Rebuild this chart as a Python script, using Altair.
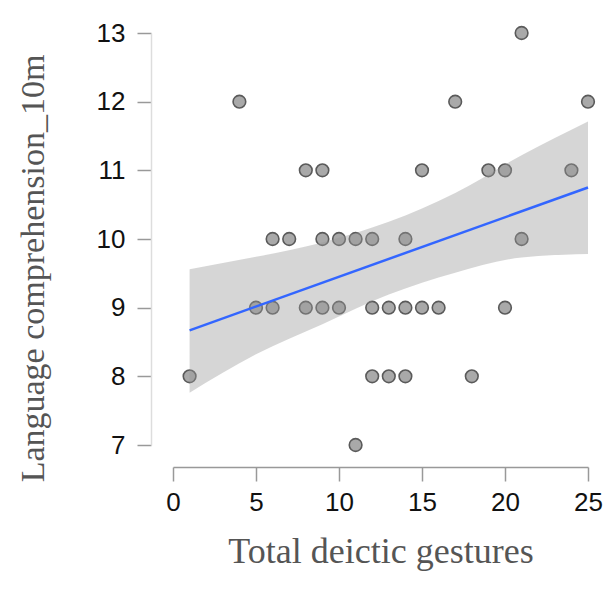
import altair as alt
import pandas as pd

gestures = [1, 4, 5, 6, 6, 7, 8, 8, 9, 9, 9, 10, 10, 11, 11, 12, 12, 12, 13, 13,
            14, 14, 14, 15, 15, 16, 17, 18, 19, 20, 20, 21, 21, 24, 25]
comprehension = [8, 12, 9, 10, 9, 10, 11, 9, 11, 10, 9, 10, 9, 10, 7, 10, 9, 8, 9, 8,
                 10, 9, 8, 11, 9, 9, 12, 8, 11, 11, 9, 13, 10, 11, 12]

# fitted line and 95% confidence band
band_x = [1, 5, 9, 13, 17, 21, 25]
band_lo = [7.76, 8.32, 8.76, 9.19, 9.51, 9.73, 9.78]
band_hi = [9.56, 9.74, 9.95, 10.25, 10.67, 11.22, 11.71]
fit_x = [1, 25]
fit_y = [8.67, 10.75]

df = pd.DataFrame({"x": gestures, "y": comprehension})
band = pd.DataFrame({"x": band_x, "lo": band_lo, "hi": band_hi})
fit = pd.DataFrame({"x": fit_x, "fit": fit_y})

xs = alt.Scale(domain=[0, 25], nice=False, zero=False)
ys = alt.Scale(domain=[7, 13], nice=False, zero=False)

xaxis = alt.Axis(values=[0, 5, 10, 15, 20, 25], format="d", offset=22, grid=False,
                 labelFlush=False,
                 domainColor="#999", tickColor="#999", tickSize=14, tickWidth=1.5,
                 domainWidth=1.5, labelFont="Liberation Sans", labelFontSize=26,
                 labelColor="#111", labelPadding=8,
                 title="Total deictic gestures", titleFont="Liberation Serif",
                 titleFontSize=36, titleFontWeight="normal", titleColor="#555",
                 titlePadding=19)
yaxis = alt.Axis(values=[7, 8, 9, 10, 11, 12, 13], format="d", offset=22, grid=False,
                 labelFlush=False,
                 domainColor="#ddd", tickColor="#999", tickSize=14, tickWidth=1.5,
                 domainWidth=1.5, labelFont="Liberation Sans", labelFontSize=26,
                 labelColor="#111", labelPadding=12,
                 title="Language comprehension_10m", titleFont="Liberation Serif",
                 titleFontSize=34, titleFontWeight="normal", titleColor="#555",
                 titlePadding=46, titleY=235)

points = alt.Chart(df).mark_circle(size=160, color="#a9a9a9", opacity=1,
                                   stroke="#5a5a5a", strokeWidth=1.6).encode(
    x=alt.X("x:Q", scale=xs, axis=xaxis),
    y=alt.Y("y:Q", scale=ys, axis=yaxis),
)

area = alt.Chart(band).mark_area(color="#999999", opacity=0.4,
                                 interpolate="monotone").encode(
    x=alt.X("x:Q", scale=xs),
    y=alt.Y("lo:Q", scale=ys),
    y2="hi:Q",
)

line = alt.Chart(fit).mark_line(color="#3366ff", strokeWidth=2.5).encode(
    x=alt.X("x:Q", scale=xs),
    y=alt.Y("fit:Q", scale=ys),
)

chart = (points + area + line).properties(
    width=415, height=412,
    background="white",
    autosize=alt.AutoSizeParams(type="none"),
    padding={"left": 165, "top": 25, "right": 15, "bottom": 135},
).configure_view(stroke=None)

chart.save("out.html", embed_options={"renderer": "svg", "actions": False})
